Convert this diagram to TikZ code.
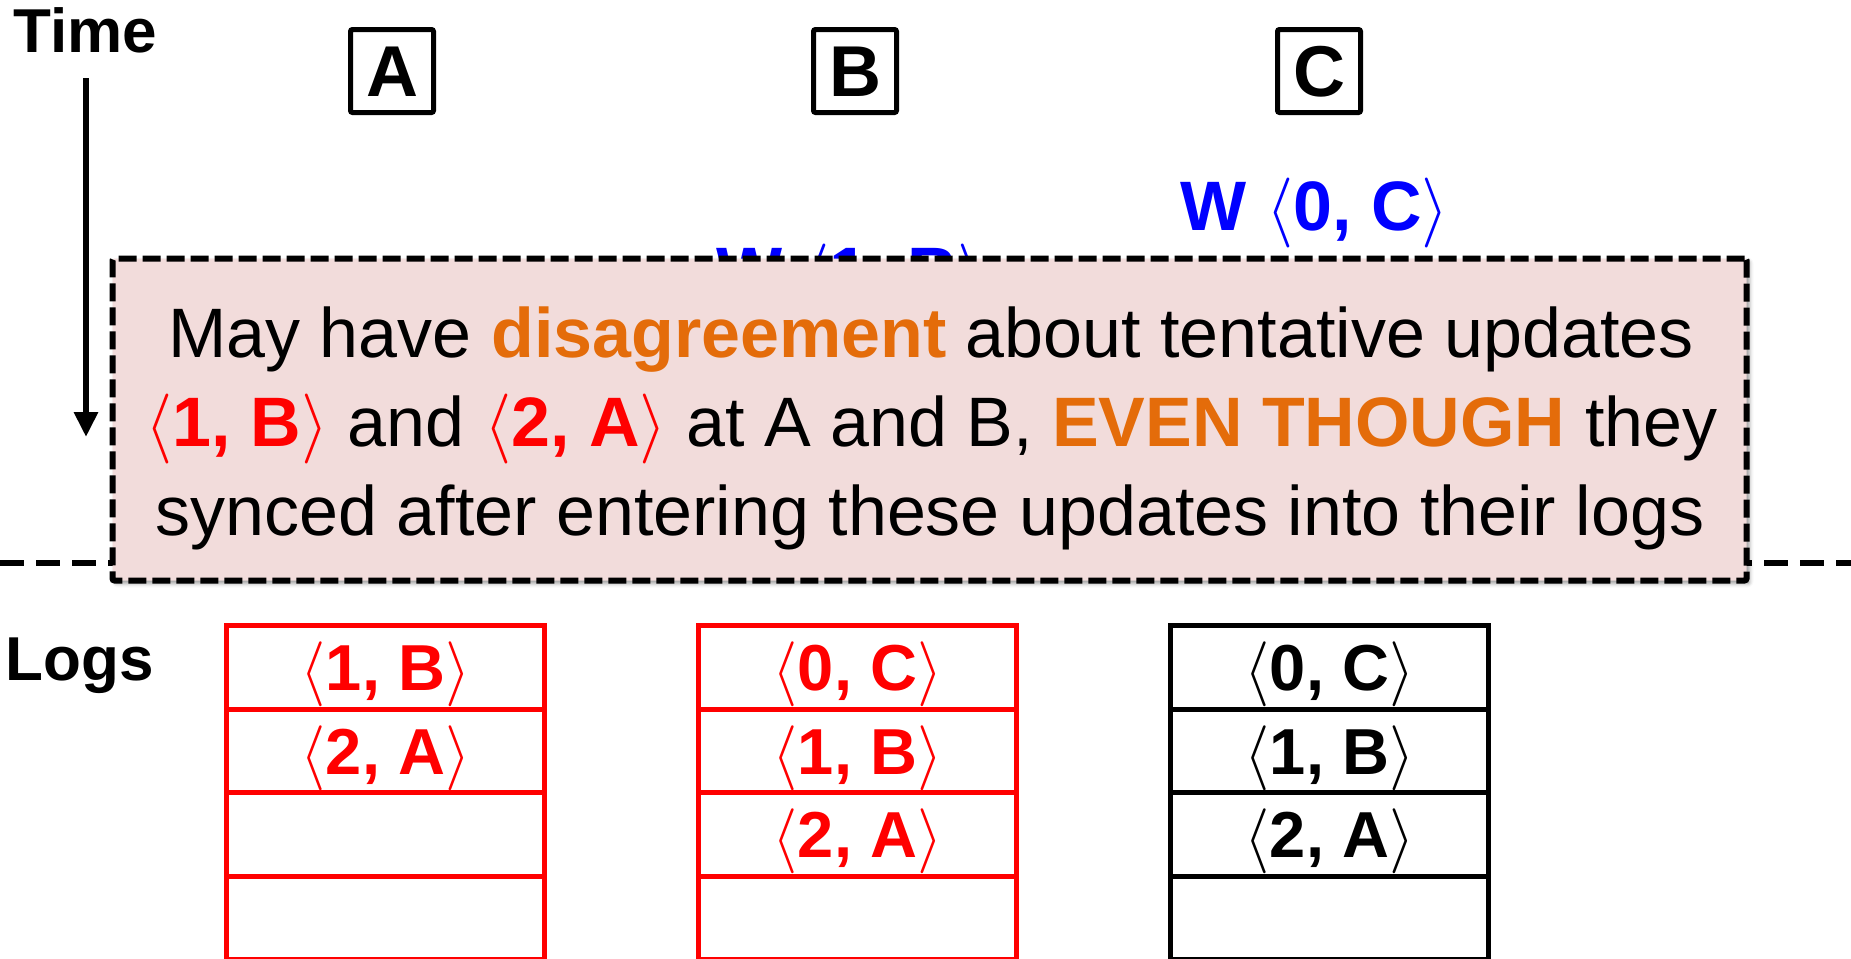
\RequirePackage{fix-cm}
\documentclass[tikz,border=0pt]{standalone}
\usepackage{fontspec}
\setmainfont{Liberation Sans}
\usetikzlibrary{positioning,arrows.meta,shadows.blur}

\definecolor{accent}{HTML}{E46C0A}
\definecolor{notefill}{HTML}{F2DCDB}
\definecolor{wblue}{HTML}{0000FF}
\newcommand{\upd}[2]{$\langle$#1, #2$\rangle$}

\begin{document}
\begin{tikzpicture}[x=0.5pt,y=-0.5pt,
		hdr/.style={inner sep=0,anchor=base west,font=\fontsize{31}{37}\selectfont\bfseries},
		site/.style={draw,line width=2.5pt,rounded corners=1pt,minimum size=41.5pt,inner sep=0,text height=25.8pt,text depth=0pt,font=\fontsize{36}{43}\selectfont\bfseries},
		wlabel/.style={wblue,inner sep=0,anchor=base,font=\fontsize{35}{42}\selectfont\bfseries},
		note/.style={draw,fill=notefill,line width=3pt,dash pattern=on 9pt off 3pt,rounded corners=1pt,minimum width=817pt,minimum height=161pt,
			blur shadow={shadow xshift=1.5pt,shadow yshift=-1.5pt,shadow blur radius=2pt,shadow opacity=40}},
		msg/.style={inner sep=0,anchor=base,font=\fontsize{35}{44}\selectfont},
		logcell/.style={draw,line width=2.5pt,minimum width=159pt,minimum height=41.75pt,inner sep=0,outer sep=0,text height=23.3pt,text depth=0pt,font=\fontsize{32.5}{39}\selectfont\bfseries}
		]
		\useasboundingbox (0,0) rectangle (1851,958);
		\clip (0,0) rectangle (1851,958);

		% time axis
		\node[hdr] (time) at (13,52) {Time};
		\coordinate (tstart) at (86,78);
		\coordinate (tend) at (86,437);
		\draw[line width=3pt,-{Triangle[width=11.5pt,length=12.5pt]}] (tstart) -- (tend);

		% replicas
		\node[site] (A) at (392,71) {A};
		\node[site] (B) at (855,71) {B};
		\node[site] (C) at (1319,71) {C};

		% writes
		\node[wlabel] (wC) at (1315,230) {W \upd{0}{C}};
		\node[wlabel] (wB) at (851,296) {W \upd{1}{B}};

		% sync boundary
		\coordinate (sepL) at (0,563);
		\coordinate (sepR) at (1851,563);
		\draw[line width=3pt,dash pattern=on 12pt off 6pt] (sepL) -- (sepR);

		% callout
		\node[note] (box) at (929.5,419.5) {};
		\node[msg] (msg1) at (931,357) {May have \textcolor{accent}{\bfseries disagreement} about tentative updates};
		\node[msg] (msg2) at (931.5,446) {\textcolor{red}{\bfseries\upd{1}{B}} and \textcolor{red}{\bfseries\upd{2}{A}} at A and B, \textcolor{accent}{\bfseries EVEN THOUGH} they};
		\node[msg] (msg3) at (930,535) {synced after entering these updates into their logs};

		% logs
		\node[hdr] (logs) at (5,680) {Logs};

		\node[logcell,red] (la1) at (385.5,667.25) {\upd{1}{B}};
		\node[logcell,red,below=0pt of la1] (la2) {\upd{2}{A}};
		\node[logcell,red,below=0pt of la2] (la3) {};
		\node[logcell,red,below=0pt of la3] (la4) {};

		\node[logcell,red] (lb1) at (857.5,667.25) {\upd{0}{C}};
		\node[logcell,red,below=0pt of lb1] (lb2) {\upd{1}{B}};
		\node[logcell,red,below=0pt of lb2] (lb3) {\upd{2}{A}};
		\node[logcell,red,below=0pt of lb3] (lb4) {};

		\node[logcell] (lc1) at (1329.5,667.25) {\upd{0}{C}};
		\node[logcell,below=0pt of lc1] (lc2) {\upd{1}{B}};
		\node[logcell,below=0pt of lc2] (lc3) {\upd{2}{A}};
		\node[logcell,below=0pt of lc3] (lc4) {};
	\end{tikzpicture}
\end{document}
